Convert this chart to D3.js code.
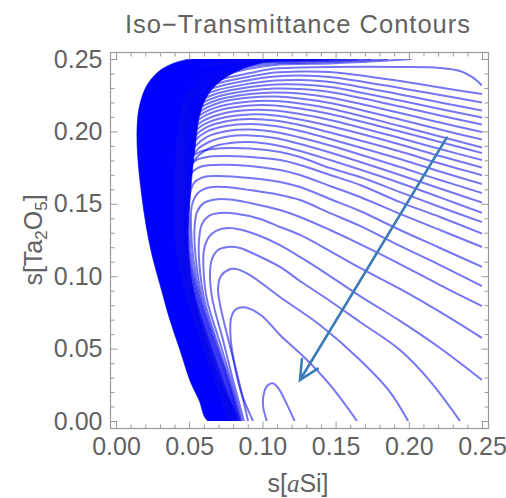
<!DOCTYPE html>
<html>
<head>
<meta charset="utf-8">
<script src="https://cdn.jsdelivr.net/npm/d3@7"></script>
<style>
  body { margin: 0; background: #fff; }
  svg { display: block; }
</style>
</head>
<body>
<svg id="chart" width="506" height="498"></svg>
<script>
// ---- chart text and ticks ----
const chartTitle = "Iso\u2212Transmittance Contours";
const xTickValues = [0.00, 0.05, 0.10, 0.15, 0.20, 0.25];
const yTickValues = [0.00, 0.05, 0.10, 0.15, 0.20, 0.25];

// ---- iso-transmittance contour lines, points are [s(aSi), s(Ta2O5)] ----
const contour01 = [[.103,0],[.1005,.010],[.101,.019],[.1035,.0245],[.107,.026],[.111,.0225],[.1165,.012],[.122,0]];
const contour02 = [[.0936,0],[.0854,.02],[.0806,.0407],[.0782,.0594],[.0786,.0711],[.082,.0773],[.0888,.0784],[.0997,.0725],[.112,.0594],[.1291,.0435],[.1462,.0249],[.1646,0]];
const contour03 = [[.0902,0],[.0837,.0283],[.0768,.0559],[.071,.0808],[.0697,.0918],[.0717,.1001],[.0765,.1043],[.082,.105],[.0915,.1008],[.112,.0856],[.1393,.0663],[.1667,.0421],[.1872,.02],[.1995,0]];
const contour04 = [[.0874,0],[.0799,.0283],[.0731,.0559],[.0659,.0836],[.0642,.1008],[.0656,.1119],[.0697,.1181],[.0765,.1202],[.0847,.1195],[.0915,.1167],[.112,.1064],[.1257,.0967],[.1462,.0829],[.1667,.0684],[.194,.049],[.2145,.0276],[.235,0]];
const contour05 = [[.0861,0],[.0786,.0283],[.0704,.0559],[.0622,.0836],[.0598,.1043],[.0601,.1181],[.0635,.1271],[.069,.1316],[.0765,.1333],[.0847,.1323],[.0984,.1278],[.112,.1215],[.1257,.1133],[.1462,.1001],[.1667,.0863],[.194,.0691],[.2213,.0504],[.25,.0283]];
const contour06 = [[.0854,0],[.0775,.0283],[.0686,.0559],[.0604,.0836],[.057,.1077],[.0567,.125],[.0587,.136],[.0635,.1416],[.071,.1436],[.0813,.1433],[.0984,.1395],[.112,.134],[.1257,.1285],[.1462,.1174],[.1667,.1057],[.194,.0912],[.2213,.0753],[.25,.0573]];
const contour07 = [[.0847,0],[.0768,.0283],[.0676,.0559],[.0591,.0836],[.0546,.1112],[.0536,.1319],[.0553,.1443],[.0601,.1506],[.0676,.153],[.0779,.153],[.0915,.1506],[.112,.1457],[.1257,.1409],[.1462,.1319],[.1667,.1222],[.194,.1084],[.2213,.0939],[.25,.0794]];
const contour08 = [[.0844,0],[.0762,.0283],[.0669,.0559],[.0581,.0836],[.0529,.1112],[.0512,.1354],[.0519,.1492],[.056,.1575],[.0635,.1613],[.0745,.1616],[.0915,.1595],[.112,.1561],[.1257,.1526],[.1462,.1436],[.1667,.1347],[.194,.1209],[.2213,.1077],[.25,.0932]];
const contour09 = [[.084,0],[.0758,.0283],[.0663,.0559],[.0574,.0836],[.0516,.1112],[.0499,.1388],[.0502,.1547],[.0533,.1644],[.0601,.1685],[.071,.1692],[.0915,.1678],[.112,.1651],[.1257,.1616],[.1462,.1533],[.1667,.145],[.194,.1319],[.2213,.1195],[.25,.1064]];
const contour10 = [[.0837,0],[.0751,.0283],[.0656,.0559],[.0567,.0836],[.0505,.1112],[.0488,.1388],[.0488,.1595],[.0512,.1706],[.0574,.1754],[.0676,.1768],[.0915,.1761],[.112,.1733],[.1257,.1699],[.1462,.1623],[.1667,.1547],[.194,.143],[.2213,.1319],[.25,.1202]];
const contour11 = [[.0833,0],[.0745,.0283],[.0649,.0559],[.056,.0836],[.0499,.1112],[.0482,.1388],[.0478,.1595],[.0492,.172],[.054,.1796],[.0622,.1823],[.0745,.183],[.0915,.1823],[.112,.1802],[.1257,.1768],[.1462,.1699],[.1667,.163],[.194,.1512],[.2213,.1409],[.25,.1295]];
const contour12 = [[.083,0],[.0738,.0283],[.0642,.0559],[.0553,.0836],[.0492,.1112],[.0475,.1388],[.0471,.1595],[.0482,.1733],[.0519,.1823],[.0587,.1865],[.0697,.1882],[.0813,.1885],[.0915,.1882],[.112,.1858],[.1257,.1823],[.1462,.1747],[.1667,.1685],[.194,.1581],[.2213,.1478],[.25,.1374]];
const contour13 = [[.0827,0],[.0731,.0283],[.0635,.0559],[.0546,.0836],[.0471,.1181],[.0461,.1457],[.0471,.163],[.0505,.1754],[.0567,.1837],[.0656,.1892],[.0779,.192],[.0915,.1927],[.1086,.1906],[.1257,.1865],[.1462,.1802],[.194,.1644],[.2213,.1544],[.25,.1438]];
const contour14 = [[.0823,0],[.0727,.0283],[.0632,.0559],[.0543,.0836],[.0468,.1181],[.0458,.1457],[.0464,.1644],[.0495,.1782],[.0553,.1872],[.0642,.193],[.0765,.1965],[.0915,.1972],[.1086,.1954],[.1257,.1913],[.1462,.1854],[.194,.1699],[.2213,.1606],[.25,.1508]];
const contour15 = [[.082,0],[.0724,.0283],[.0628,.0559],[.054,.0836],[.0464,.1181],[.0454,.1457],[.0461,.1657],[.0488,.1802],[.0543,.1899],[.0628,.1965],[.0758,.2003],[.0915,.2013],[.1086,.1996],[.1257,.1958],[.1462,.1903],[.194,.1754],[.2213,.1664],[.25,.1575]];
const contour16 = [[.0816,0],[.0721,.0283],[.0625,.0559],[.0536,.0836],[.0461,.1181],[.0451,.1457],[.0458,.1671],[.0482,.1823],[.0533,.1927],[.0615,.1996],[.0751,.2037],[.0915,.2051],[.1086,.2037],[.1257,.2003],[.1462,.1948],[.194,.1809],[.2213,.1723],[.25,.1637]];
const contour17 = [[.0813,0],[.0717,.0283],[.0622,.0559],[.0533,.0836],[.0458,.1181],[.0447,.1457],[.0454,.1685],[.0475,.1844],[.0526,.1954],[.0608,.2023],[.0745,.2068],[.0915,.2086],[.1086,.2075],[.1257,.2044],[.1462,.1992],[.194,.1861],[.2213,.1778],[.25,.1697]];
const contour18 = [[.0809,0],[.0714,.0283],[.0618,.0559],[.0529,.0836],[.0454,.1181],[.0444,.1457],[.0451,.1699],[.0471,.1858],[.0519,.1975],[.0601,.2048],[.0738,.2096],[.0915,.2117],[.1086,.211],[.1257,.2082],[.1462,.2037],[.194,.191],[.2213,.183],[.25,.1751]];
const contour19 = [[.0806,0],[.071,.0283],[.0615,.0559],[.0526,.0836],[.0451,.1181],[.0441,.1457],[.0447,.1713],[.0468,.1872],[.0512,.1996],[.0594,.2072],[.0731,.2124],[.0915,.2148],[.1086,.2144],[.1257,.212],[.1462,.2079],[.194,.1954],[.2213,.1878],[.25,.1802]];
const contour20 = [[.0803,0],[.0707,.0283],[.0611,.0559],[.0523,.0836],[.0447,.1181],[.0437,.1457],[.0444,.1727],[.0464,.1885],[.0505,.2017],[.0587,.2096],[.0724,.2151],[.0915,.2179],[.1086,.2179],[.1257,.2158],[.1462,.212],[.194,.1999],[.2213,.1927],[.25,.1851]];
const contour21 = [[.0799,0],[.0704,.0283],[.0608,.0559],[.0519,.0836],[.0444,.1181],[.0434,.1457],[.0441,.174],[.0461,.1899],[.0499,.2037],[.0581,.2117],[.0717,.2175],[.0915,.2206],[.1086,.221],[.1257,.2193],[.1462,.2158],[.194,.2037],[.2213,.1965],[.25,.1889]];
const contour22 = [[.0796,0],[.07,.0283],[.0604,.0559],[.0516,.0836],[.0441,.1181],[.043,.1457],[.0437,.1754],[.0458,.1913],[.0492,.2058],[.0574,.2137],[.071,.22],[.0915,.2234],[.1086,.2241],[.1257,.2227],[.1462,.2196],[.194,.2082],[.2213,.2013],[.25,.1944]];
const contour23 = [[.0792,0],[.0697,.0283],[.0601,.0559],[.0512,.0836],[.0437,.1181],[.0427,.1457],[.0434,.1768],[.0454,.1934],[.0488,.2079],[.0567,.2158],[.0704,.222],[.0915,.2258],[.1086,.2269],[.1257,.2262],[.1462,.2234],[.194,.2127],[.2213,.2061],[.25,.1996]];
const contour24 = [[.0789,0],[.0693,.0283],[.0598,.0559],[.0509,.0836],[.0434,.1181],[.0423,.1457],[.043,.1782],[.0451,.1954],[.0485,.2099],[.056,.2179],[.0697,.2241],[.0915,.2282],[.1086,.2296],[.1257,.2293],[.1462,.2272],[.194,.2172],[.2213,.211],[.25,.2048]];
const contour25 = [[.0786,0],[.069,.0283],[.0594,.0559],[.0505,.0836],[.043,.1181],[.042,.1457],[.0427,.1796],[.0447,.1975],[.0482,.212],[.0553,.22],[.069,.2262],[.0915,.2307],[.1086,.2324],[.1257,.2324],[.1462,.2307],[.194,.2213],[.2213,.2155],[.25,.2096]];
const contour26 = [[.0782,0],[.0686,.0283],[.0591,.0559],[.0502,.0836],[.0427,.1181],[.0417,.1457],[.0423,.1809],[.0444,.1996],[.0478,.2141],[.0546,.222],[.0683,.2282],[.0915,.2331],[.1086,.2352],[.1257,.2355],[.1462,.2341],[.194,.2255],[.2213,.22],[.25,.2144]];
const contour27 = [[.0779,0],[.0683,.0283],[.0587,.0559],[.0499,.0836],[.0423,.1181],[.0413,.1457],[.042,.1823],[.0441,.2017],[.0475,.2162],[.054,.2241],[.0676,.2303],[.0915,.2355],[.1086,.2379],[.1257,.2386],[.1462,.2376],[.194,.23],[.2213,.2251],[.25,.22]];
const contour28 = [[.0775,0],[.068,.0283],[.0584,.0559],[.0495,.0836],[.042,.1181],[.041,.1457],[.0417,.1837],[.0437,.2037],[.0471,.2182],[.0533,.2262],[.0669,.2324],[.0915,.2379],[.1086,.2407],[.1257,.2414],[.1462,.241],[.194,.2348],[.2213,.2303],[.25,.2258]];
const contour29 = [[.0772,0],[.0676,.0283],[.0581,.0559],[.0492,.0836],[.0417,.1181],[.0406,.1457],[.0413,.1851],[.0434,.2058],[.0468,.2203],[.0526,.2282],[.0663,.2345],[.0915,.2403],[.1086,.2434],[.1257,.2441],[.1462,.2445],[.194,.2445],[.2213,.2438],[.235,.2417],[.2432,.2376],[.25,.2317]];
const contour30 = [[.2022,.25],[.1803,.2486],[.1462,.2469],[.1257,.2466],[.1086,.2459],[.0915,.2434],[.0765,.2396],[.0642,.2348],[.0546,.2286],[.0485,.2203],[.0451,.2093],[.043,.1941]];
const contour31 = [[.1858,.25],[.1598,.2486],[.1325,.2476],[.112,.2472],[.0949,.2455],[.0813,.2428],[.0676,.2383],[.0574,.2327],[.0505,.2251],[.0464,.2148],[.0437,.201]];
const contour32 = [[.1742,.25],[.153,.249],[.1257,.2483],[.1052,.2479],[.0881,.2462],[.0745,.2431],[.0608,.2383],[.0519,.2314],[.0464,.2217],[.0437,.2079]];
const contour33 = [[.1653,.25],[.1393,.249],[.112,.2483],[.0847,.2476],[.0608,.2452]];
const contour34 = [[.1578,.25],[.1325,.2493],[.1052,.2486],[.0779,.2479],[.0574,.2459]];
const contour35 = [[.1516,.25],[.1257,.2493],[.0984,.2488],[.071,.2483]];
const contour36 = [[.1462,.25],[.1189,.2494],[.0915,.249],[.0676,.2483]];
const contour37 = [[.1414,.25],[.112,.2495],[.0847,.2491]];
const contour38 = [[.1373,.25],[.1086,.2496],[.0847,.2493]];
const contour39 = [[.1332,.25],[.1052,.2497]];
const contour40 = [[.1298,.25],[.1018,.2497]];

// outline of the region where the contour lines crowd together into solid colour
const denseBandOutline = [
  [.0628,0],[.0567,.0145],[.0512,.0262],[.0437,.049],[.0362,.0718],[.0307,.0918],[.0246,.1146],
  [.0205,.1354],[.0171,.1595],[.015,.1802],[.0143,.1975],[.015,.2113],[.0171,.2217],[.0205,.2307],
  [.0253,.2376],[.0314,.2431],[.0389,.2469],[.0458,.249],[.0519,.25],[.1141,.25],
  [.0997,.2472],[.0881,.2438],[.0765,.2383],[.0669,.2307],[.0608,.2217],[.0567,.2093],[.0546,.1941],
  [.0526,.1768],[.0505,.1526],[.0492,.1319],[.0499,.1112],[.0526,.0905],[.0574,.0698],[.0635,.049],
  [.071,.0283],[.082,0]
];

// direction-of-increase arrow
const arrowStart = [0.2259, 0.1957];
const arrowEnd = [0.1257, 0.0283];

const contourLines = [
  contour01, contour02, contour03, contour04, contour05, contour06, contour07, contour08,
  contour09, contour10, contour11, contour12, contour13, contour14, contour15, contour16,
  contour17, contour18, contour19, contour20, contour21, contour22, contour23, contour24,
  contour25, contour26, contour27, contour28, contour29, contour30, contour31, contour32,
  contour33, contour34, contour35, contour36, contour37, contour38, contour39, contour40
];

// ---- layout ----
const svg = d3.select("#chart");
const x = d3.scaleLinear().domain([0, 0.25]).range([116, 482]);
const y = d3.scaleLinear().domain([0, 0.25]).range([421, 59]);
const frame = { left: 110.5, right: 488.5, top: 52.5, bottom: 428.5 };
const textFont = "Arial, 'Liberation Sans', sans-serif";
const textColor = "#626262";
const frameColor = "#9a9a9a";

svg.append("defs").append("clipPath").attr("id", "plotClip")
  .append("rect")
  .attr("x", x(0)).attr("y", y(0.25))
  .attr("width", x(0.25) - x(0)).attr("height", y(0) - y(0.25));

const plot = svg.append("g").attr("clip-path", "url(#plotClip)");

// solid band
plot.append("path")
  .datum(denseBandOutline)
  .attr("d", d3.line().x(d => x(d[0])).y(d => y(d[1])).curve(d3.curveCatmullRomClosed.alpha(0.5)))
  .attr("fill", "#0000ff")
  .attr("stroke", "#0000ff")
  .attr("stroke-width", 1)
  .attr("stroke-opacity", 0.6);

// contour lines
const contourPath = d3.line()
  .x(d => x(d[0]))
  .y(d => y(d[1]))
  .curve(d3.curveCatmullRom.alpha(0.5));

plot.append("g")
  .selectAll("path")
  .data(contourLines)
  .join("path")
  .attr("d", contourPath)
  .attr("fill", "none")
  .attr("stroke", "#0a0aee")
  .attr("stroke-opacity", 0.56)
  .attr("stroke-width", 2)
  .attr("stroke-linejoin", "round");

// ---- frame and ticks ----
svg.append("rect")
  .attr("x", frame.left).attr("y", frame.top)
  .attr("width", frame.right - frame.left).attr("height", frame.bottom - frame.top)
  .attr("fill", "none").attr("stroke", frameColor).attr("stroke-width", 1.2);

const fmt = d3.format(".2f");
function styleAxis(g) {
  g.select(".domain").remove();
  g.attr("font-family", textFont).attr("font-size", 25).attr("color", frameColor);
  g.selectAll(".tick line").attr("stroke-width", 1);
  g.selectAll(".tick text").attr("fill", textColor);
}

// major ticks with labels
svg.append("g").attr("transform", `translate(0,${frame.bottom})`)
  .call(d3.axisBottom(x).tickValues(xTickValues).tickFormat(fmt).tickSizeInner(-7).tickSizeOuter(0).tickPadding(9))
  .call(styleAxis);
svg.append("g").attr("transform", `translate(${frame.left},0)`)
  .call(d3.axisLeft(y).tickValues(yTickValues).tickFormat(fmt).tickSizeInner(-7).tickSizeOuter(0).tickPadding(8))
  .call(styleAxis);
// unlabeled ticks on top and right
svg.append("g").attr("transform", `translate(0,${frame.top})`)
  .call(d3.axisTop(x).tickValues(xTickValues).tickFormat("").tickSizeInner(-7).tickSizeOuter(0))
  .call(styleAxis);
svg.append("g").attr("transform", `translate(${frame.right},0)`)
  .call(d3.axisRight(y).tickValues(yTickValues).tickFormat("").tickSizeInner(-7).tickSizeOuter(0))
  .call(styleAxis);

// minor ticks on all four sides
const minorX = x.ticks(25).filter(v => !xTickValues.some(t => Math.abs(t - v) < 1e-9));
const minorY = y.ticks(25).filter(v => !yTickValues.some(t => Math.abs(t - v) < 1e-9));
[[d3.axisBottom(x), minorX, `translate(0,${frame.bottom})`],
 [d3.axisTop(x), minorX, `translate(0,${frame.top})`],
 [d3.axisLeft(y), minorY, `translate(${frame.left},0)`],
 [d3.axisRight(y), minorY, `translate(${frame.right},0)`]].forEach(([ax, vals, tr]) => {
  svg.append("g").attr("transform", tr)
    .call(ax.tickValues(vals).tickFormat("").tickSizeInner(-4).tickSizeOuter(0))
    .call(styleAxis);
});

// ---- arrow ----
const ax0 = x(arrowStart[0]), ay0 = y(arrowStart[1]);
const ax1 = x(arrowEnd[0]), ay1 = y(arrowEnd[1]);
const back = Math.atan2(ay0 - ay1, ax0 - ax1);
const headLen = 21, headSpread = 26 * Math.PI / 180;
const arrowColor = "#3c7bb9";
svg.append("line")
  .attr("x1", ax0).attr("y1", ay0).attr("x2", ax1).attr("y2", ay1)
  .attr("stroke", arrowColor).attr("stroke-width", 2.6).attr("stroke-linecap", "round");
svg.append("path")
  .attr("d", `M${ax1 + headLen * Math.cos(back - headSpread)},${ay1 + headLen * Math.sin(back - headSpread)}` +
             `L${ax1},${ay1}` +
             `L${ax1 + headLen * Math.cos(back + headSpread)},${ay1 + headLen * Math.sin(back + headSpread)}`)
  .attr("fill", "none").attr("stroke", arrowColor).attr("stroke-width", 2.6)
  .attr("stroke-linecap", "round").attr("stroke-linejoin", "miter");

// ---- title and axis labels ----
svg.append("text")
  .attr("x", 298).attr("y", 33)
  .attr("text-anchor", "middle")
  .attr("font-family", textFont).attr("font-size", 25.5)
  .attr("letter-spacing", 1)
  .attr("fill", textColor)
  .text(chartTitle);

const xLabel = svg.append("text")
  .attr("x", 298).attr("y", 492)
  .attr("text-anchor", "middle")
  .attr("font-family", textFont).attr("font-size", 25)
  .attr("fill", textColor);
xLabel.append("tspan").text("s[");
xLabel.append("tspan").attr("font-family", "'Liberation Serif', 'Times New Roman', serif").attr("font-style", "italic").text("a");
xLabel.append("tspan").text("Si]");

const yLabel = svg.append("text")
  .attr("transform", "translate(42,240) rotate(-90)")
  .attr("text-anchor", "middle")
  .attr("font-family", textFont).attr("font-size", 25)
  .attr("fill", textColor);
yLabel.append("tspan").text("s[Ta");
yLabel.append("tspan").attr("font-size", 17).attr("dy", 5).text("2");
yLabel.append("tspan").attr("dy", -5).text("O");
yLabel.append("tspan").attr("font-size", 17).attr("dy", 5).text("5");
yLabel.append("tspan").attr("dy", -5).text("]");
</script>
</body>
</html>
